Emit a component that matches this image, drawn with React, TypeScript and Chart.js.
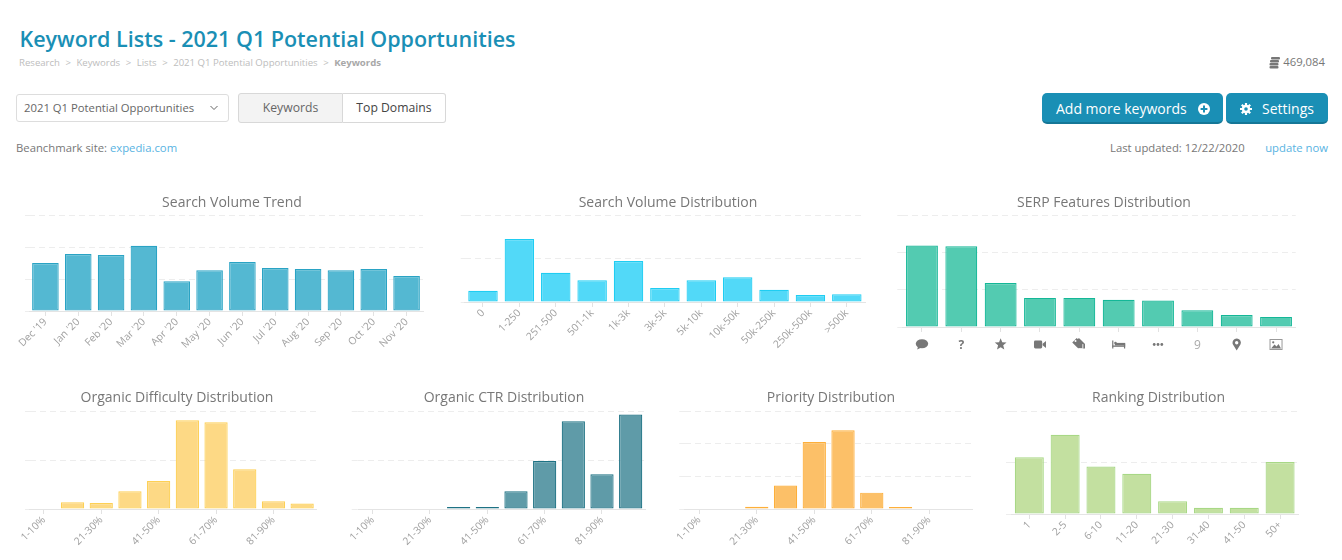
import React, { useEffect, useRef } from "react";
import { Chart, registerables } from "chart.js";

Chart.register(...registerables);

const FONT = '"Open Sans", sans-serif';

// ---------- data ----------
const trendLabels = ["Dec '19", "Jan '20", "Feb '20", "Mar '20", "Apr '20", "May '20", "Jun '20", "Jul '20", "Aug '20", "Sep '20", "Oct '20", "Nov '20"];
const trendValues = [150, 178, 175, 204, 93, 127, 153, 134, 131, 127, 131, 109];

const volumeLabels = ["0", "1-250", "251-500", "501-1k", "1k-3k", "3k-5k", "5k-10k", "10k-50k", "50k-250k", "250k-500k", ">500k"];
const volumeValues = [26, 145, 67, 50, 94, 32, 50, 57, 28, 16, 18];

const serpLabels = ["comment", "?", "star", "video", "tags", "bed", "more", "9", "pin", "image"];
const serpValues = [218, 216, 118, 78, 78, 73, 71, 45, 32, 27];

const percentLabels = ["1-10%", "11-20%", "21-30%", "31-40%", "41-50%", "51-60%", "61-70%", "71-80%", "81-90%", "91-100%"];
const difficultyValues = [0, 14, 12, 36, 57, 181, 177, 81, 16, 11];
const ctrValues = [0, 0, 0, 4, 4, 36, 98, 179, 71, 193];
const priorityValues = [0, 0, 7, 72, 205, 241, 50, 6, 0, 0];

const rankingLabels = ["1", "2-5", "6-10", "11-20", "21-30", "31-40", "41-50", "50+"];
const rankingValues = [110, 154, 92, 78, 25, 12, 12, 101];

const breadcrumbs = ["Research", "Keywords", "Lists", "2021 Q1 Potential Opportunities"];

// ---------- serp icons ----------
type Ctx = CanvasRenderingContext2D;
const tagShape = (c: Ctx, dx: number) => {
  c.save();
  c.translate(dx, 0);
  c.rotate(Math.PI / 4);
  c.beginPath();
  c.moveTo(-6, -3.2);
  c.lineTo(2.6, -3.2);
  c.lineTo(5.8, 0);
  c.lineTo(2.6, 3.2);
  c.lineTo(-6, 3.2);
  c.closePath();
  c.fill();
  c.restore();
};
const ICONS: Record<string, (c: Ctx) => void> = {
  comment(c) {
    c.beginPath();
    c.ellipse(0, -0.8, 6.2, 4.5, 0, 0, Math.PI * 2);
    c.fill();
    c.beginPath();
    c.moveTo(-3.8, 1.6);
    c.lineTo(-4.8, 5);
    c.lineTo(-0.5, 3);
    c.fill();
  },
  star(c) {
    c.beginPath();
    for (let i = 0; i < 10; i++) {
      const rad = i % 2 ? 2.7 : 6.2;
      const a = -Math.PI / 2 + (i * Math.PI) / 5;
      c.lineTo(rad * Math.cos(a), rad * Math.sin(a));
    }
    c.closePath();
    c.fill();
  },
  video(c) {
    c.beginPath();
    c.roundRect(-6, -4, 8.2, 8, 1.4);
    c.fill();
    c.beginPath();
    c.moveTo(2.6, -0.8);
    c.lineTo(6, -3.6);
    c.lineTo(6, 3.6);
    c.lineTo(2.6, 0.8);
    c.fill();
  },
  tags(c) {
    tagShape(c, 1.6);
    c.strokeStyle = "#ffffff";
    c.lineWidth = 0.8;
    tagShape(c, -0.6);
    c.save();
    c.translate(-0.6, 0);
    c.rotate(Math.PI / 4);
    c.beginPath();
    c.moveTo(2.6, -3.2);
    c.lineTo(5.8, 0);
    c.lineTo(2.6, 3.2);
    c.stroke();
    c.restore();
    c.fillStyle = "#ffffff";
    c.beginPath();
    c.arc(-3.8, -3.6, 1, 0, Math.PI * 2);
    c.fill();
  },
  bed(c) {
    c.fillRect(-6.5, -4, 1.2, 8);
    c.fillRect(-6.5, 1, 13, 1.3);
    c.fillRect(5.3, -1, 1.2, 5);
    c.fillRect(-3.8, -1.6, 10.3, 2.6);
    c.beginPath();
    c.arc(-3.2, -1.4, 1.3, 0, Math.PI * 2);
    c.fill();
  },
  more(c) {
    [-3.8, 0, 3.8].forEach((x) => {
      c.beginPath();
      c.arc(x, 0, 1.4, 0, Math.PI * 2);
      c.fill();
    });
  },
  pin(c) {
    c.beginPath();
    c.arc(0, -1.8, 4.2, Math.PI * 0.85, Math.PI * 2.15);
    c.lineTo(0, 6);
    c.closePath();
    c.arc(0, -1.8, 1.7, 0, Math.PI * 2, true);
    c.fill("evenodd");
  },
  image(c) {
    c.lineWidth = 1;
    c.strokeStyle = "#999999";
    c.strokeRect(-6, -5, 12, 10);
    c.fillStyle = "#777777";
    c.beginPath();
    c.moveTo(-5, 4);
    c.lineTo(-1.5, 0);
    c.lineTo(0.5, 2);
    c.lineTo(2.5, -0.5);
    c.lineTo(5, 4);
    c.closePath();
    c.fill();
    c.beginPath();
    c.arc(-2.8, -2.2, 1.1, 0, Math.PI * 2);
    c.fill();
  },
};

const serpIconPlugin = {
  id: "serpIcons",
  afterDraw(chart: any) {
    const x = chart.scales.x;
    const c: Ctx = chart.ctx;
    chart.data.labels.forEach((name: string, i: number) => {
      const fn = ICONS[name];
      if (!fn) return;
      c.save();
      c.translate(x.getPixelForValue(i), x.top + 17.5);
      c.fillStyle = "#777777";
      fn(c);
      c.restore();
    });
  },
};

// ---------- a single chart ----------
type Spec = {
  title: string;
  labels: string[];
  values: number[];
  max: number;
  step: number;
  fill: string;
  stroke: string;
  cx: number;
  cy: number;
  gridL: number;
  l: number;
  r: number;
  t: number;
  b: number;
  labelEvery?: number;
  icons?: boolean;
};

function BarPanel({ s }: { s: Spec }) {
  const ref = useRef<HTMLCanvasElement>(null);
  const half = Math.max(s.cx - s.l, s.r - s.cx) + 40;
  const cl = Math.floor(s.cx - half);
  const cr = Math.ceil(s.cx + half);
  const ct = s.cy - 12;
  const cb = s.b + 60;
  const every = s.labelEvery ?? 1;

  useEffect(() => {
    const chart = new Chart(ref.current as HTMLCanvasElement, {
      type: "bar",
      plugins: s.icons ? [serpIconPlugin as any] : [],
      data: {
        labels: s.labels,
        datasets: [
          {
            data: s.values,
            backgroundColor: s.fill,
            borderColor: s.stroke,
            borderWidth: (c: any) => (c.raw > 0 ? 1.2 : 0),
            borderSkipped: false,
            categoryPercentage: 1,
            barPercentage: 0.81,
          },
        ],
      },
      options: {
        responsive: false,
        animation: false,
        events: [],
        layout: { padding: 0 },
        plugins: {
          legend: { display: false },
          tooltip: { enabled: false },
          title: {
            display: true,
            text: s.title,
            color: "#777777",
            font: { family: FONT, size: 14, weight: "normal", lineHeight: 1.2 },
            padding: { top: 3.6, bottom: s.t - ct - 3.6 - 16.8 },
          },
        },
        scales: {
          x: {
            grid: {
              offset: false,
              drawOnChartArea: false,
              drawTicks: true,
              tickLength: 5,
              tickColor: (c: any) => (c.index % every === 0 ? "#e2e2e2" : "transparent"),
            },
            border: { color: "#e4e4e4", width: 1 },
            ticks: {
              autoSkip: false,
              minRotation: s.icons ? 0 : 45,
              maxRotation: s.icons ? 0 : 45,
              padding: s.icons ? 6 : 0,
              color: (c: any) => (s.icons && c.tick?.label === "9" ? "#aaaaaa" : s.icons ? "#777777" : "#a0a0a0"),
              font: (c: any) => ({
                family: FONT,
                size: s.icons ? 12 : 10.3,
                weight: s.icons && c.tick?.label === "?" ? "bold" : "normal",
              }),
              callback: (_v: any, i: number) => {
                const lab = s.labels[i];
                if (s.icons) return ICONS[lab] ? "" : lab;
                return i % every === 0 ? lab : "";
              },
            },
            afterFit: (a: any) => {
              a.height = cb - s.b;
              a.paddingLeft = 0;
              a.paddingRight = 0;
            },
          },
          y: {
            min: 0,
            max: s.max,
            grid: {
              color: "#ededed",
              drawTicks: true,
              tickLength: s.l - s.gridL,
              tickColor: "#ededed",
              tickBorderDash: [6, 4],
            } as any,
            border: { display: false, dash: [6, 4] },
            ticks: { display: false, stepSize: s.step },
            afterFit: (a: any) => {
              a.width = s.l - cl;
            },
          },
          gap: {
            type: "linear",
            position: "right",
            grid: { display: false },
            border: { display: false },
            ticks: { display: false },
            afterFit: (a: any) => {
              a.width = cr - s.r;
            },
          },
        },
      } as any,
    });
    return () => chart.destroy();
  }, []);

  return (
    <canvas
      ref={ref}
      width={cr - cl}
      height={cb - ct}
      style={{ position: "absolute", left: cl, top: ct, pointerEvents: "none" }}
    />
  );
}

// ---------- panel table ----------
const panels: Spec[] = [
  { title: "Search Volume Trend", labels: trendLabels, values: trendValues, max: 300, step: 100, fill: "#54b8d2", stroke: "#2aa3c4", cx: 232, cy: 203, gridL: 25, l: 29, r: 423, t: 215, b: 311 },
  { title: "Search Volume Distribution", labels: volumeLabels, values: volumeValues, max: 200, step: 100, fill: "#52d9f8", stroke: "#1fcdf2", cx: 668, cy: 203, gridL: 460.7, l: 464.8, r: 865, t: 215, b: 302 },
  { title: "SERP Features Distribution", labels: serpLabels, values: serpValues, max: 300, step: 100, fill: "#53cbb1", stroke: "#14b797", cx: 1104, cy: 203, gridL: 897.3, l: 902.3, r: 1295.7, t: 215, b: 327, icons: true },
  { title: "Organic Difficulty Distribution", labels: percentLabels, values: difficultyValues, max: 200, step: 100, fill: "#fdd985", stroke: "#fdd055", cx: 177, cy: 398, gridL: 25, l: 29.5, r: 316.5, t: 411, b: 509, labelEvery: 2 },
  { title: "Organic CTR Distribution", labels: percentLabels, values: ctrValues, max: 200, step: 100, fill: "#5f9ba8", stroke: "#1e7284", cx: 504, cy: 398, gridL: 351.7, l: 358.3, r: 645, t: 411, b: 509, labelEvery: 2 },
  { title: "Priority Distribution", labels: percentLabels, values: priorityValues, max: 300, step: 100, fill: "#fcc068", stroke: "#fdaf3a", cx: 831, cy: 398, gridL: 679.3, l: 684.9, r: 972.4, t: 411, b: 509, labelEvery: 2 },
  { title: "Ranking Distribution", labels: rankingLabels, values: rankingValues, max: 200, step: 100, fill: "#c3e0a0", stroke: "#a8d886", cx: 1158.7, cy: 398, gridL: 1006, l: 1011.4, r: 1298, t: 411, b: 514 },
];

const abs = (left: number, top: number, extra: React.CSSProperties = {}): React.CSSProperties => ({
  position: "absolute",
  left,
  top,
  whiteSpace: "nowrap",
  ...extra,
});

export default function App() {
  return (
    <div
      style={{
        position: "absolute",
        left: 0,
        top: 0,
        width: 1342,
        height: 560,
        overflow: "hidden",
        background: "#ffffff",
        fontFamily: FONT,
      }}
    >
      <div style={abs(19.5, 24, { fontSize: 21.5, lineHeight: "30px", fontWeight: 600, color: "#1a8fb5" })}>
        Keyword Lists - 2021 Q1 Potential Opportunities
      </div>

      <div style={abs(19, 55.5, { fontSize: 9.6, lineHeight: "14px", color: "#bdbdbd" })}>
        {breadcrumbs.map((b) => (
          <span key={b}>
            {b}
            <span style={{ margin: "0 5.5px" }}>&gt;</span>
          </span>
        ))}
        <span style={{ fontWeight: 700, color: "#a8a8a8" }}>Keywords</span>
      </div>

      <svg style={abs(1269, 56)} width="12" height="13" viewBox="0 0 12 13">
        <g fill="#777777">
          <rect x="2" y="1" width="9" height="2.4" rx="1" />
          <rect x="1" y="4" width="9" height="2.4" rx="1" />
          <rect x="0.5" y="7" width="9" height="2.4" rx="1" />
          <rect x="0.5" y="10" width="9" height="2.4" rx="1" />
        </g>
      </svg>
      <div style={{ ...abs(0, 54), right: 17, left: "auto", fontSize: 11.3, lineHeight: "16px", color: "#777777" }}>469,084</div>

      <div
        style={abs(16, 94, {
          width: 211,
          height: 26,
          border: "1px solid #dddddd",
          borderRadius: 3,
          fontSize: 11.3,
          lineHeight: "26px",
          color: "#666666",
          textIndent: 7,
        })}
      >
        2021 Q1 Potential Opportunities
      </div>
      <svg style={abs(209, 105)} width="10" height="6" viewBox="0 0 10 6">
        <path d="M1.5 1 L5 4.5 L8.5 1" fill="none" stroke="#666666" strokeWidth="1" />
      </svg>

      <div
        style={abs(238, 93, {
          width: 103,
          height: 28,
          background: "#f3f3f3",
          border: "1px solid #d8d8d8",
          borderRadius: "3px 0 0 3px",
          fontSize: 12.2,
          lineHeight: "28px",
          textAlign: "center",
          color: "#666666",
        })}
      >
        Keywords
      </div>
      <div
        style={abs(343, 93, {
          width: 102,
          height: 28,
          background: "#ffffff",
          border: "1px solid #d8d8d8",
          borderLeft: "none",
          borderRadius: "0 3px 3px 0",
          fontSize: 12.2,
          lineHeight: "28px",
          textAlign: "center",
          color: "#444444",
        })}
      >
        Top Domains
      </div>

      <div style={abs(16, 140, { fontSize: 11.3, lineHeight: "16px", color: "#777777" })}>
        Beanchmark site: <span style={{ color: "#58b3e2" }}>expedia.com</span>
      </div>

      <div
        style={abs(1042, 93, {
          width: 181,
          height: 29,
          background: "#1a8fb5",
          borderBottom: "2px solid #157797",
          borderRadius: 5,
          color: "#ffffff",
          fontSize: 14,
          lineHeight: "31px",
          textIndent: 14,
        })}
      >
        Add more keywords
      </div>
      <svg style={abs(1198, 103)} width="12" height="12" viewBox="0 0 12 12">
        <circle cx="6" cy="6" r="6" fill="#ffffff" />
        <path d="M6 2.6 V9.4 M2.6 6 H9.4" stroke="#1a8fb5" strokeWidth="2" />
      </svg>

      <div
        style={abs(1226, 93, {
          width: 102,
          height: 29,
          background: "#1a8fb5",
          borderBottom: "2px solid #157797",
          borderRadius: 5,
          color: "#ffffff",
          fontSize: 14,
          lineHeight: "31px",
          textIndent: 36,
        })}
      >
        Settings
      </div>
      <svg style={abs(1240, 103)} width="12" height="12" viewBox="0 0 12 12">
        <circle cx="6" cy="6" r="3" fill="none" stroke="#ffffff" strokeWidth="2.4" />
        <g stroke="#ffffff" strokeWidth="2.2">
          <path d="M6 0 V2.5 M6 9.5 V12 M0 6 H2.5 M9.5 6 H12" />
          <path d="M1.8 1.8 L3.5 3.5 M8.5 8.5 L10.2 10.2 M1.8 10.2 L3.5 8.5 M8.5 3.5 L10.2 1.8" />
        </g>
      </svg>

      <div style={abs(1110, 140, { fontSize: 11.3, lineHeight: "16px", color: "#777777" })}>Last updated: 12/22/2020</div>
      <div style={{ ...abs(0, 140), left: "auto", right: 14, fontSize: 11.3, lineHeight: "16px", color: "#58b3e2" }}>update now</div>

      {panels.map((p) => (
        <BarPanel key={p.title} s={p} />
      ))}
    </div>
  );
}
